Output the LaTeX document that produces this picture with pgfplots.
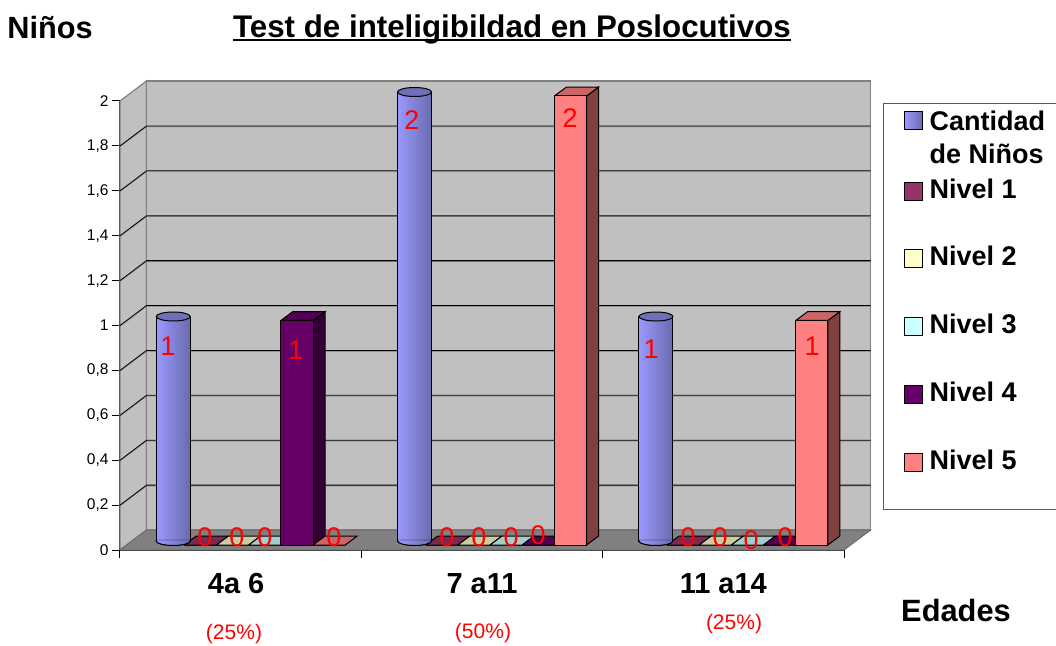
\documentclass[border=0pt]{standalone}
\usepackage{fontspec}
\setmainfont{Liberation Sans}
\usepackage{pgfplots}
\usepackage{pgfplotstable}
\pgfplotsset{compat=1.18}
\definecolor{cA}{HTML}{9999FF}
\definecolor{cAd}{HTML}{6A6AAD}
\definecolor{cAt}{HTML}{7070B8}
\definecolor{cB}{HTML}{993366}
\definecolor{cBt}{HTML}{7A2952}
\definecolor{cC}{HTML}{FFFFCC}
\definecolor{cCt}{HTML}{CCCCA3}
\definecolor{cD}{HTML}{CCFFFF}
\definecolor{cDt}{HTML}{A3CCCC}
\definecolor{cE}{HTML}{660066}
\definecolor{cEt}{HTML}{520052}
\definecolor{cEs}{HTML}{330033}
\definecolor{cF}{HTML}{FF8080}
\definecolor{cFt}{HTML}{CC6666}
\definecolor{cFs}{HTML}{804040}
\definecolor{wall}{HTML}{C0C0C0}
\definecolor{floorc}{HTML}{808080}
\pgfplotstableread{
cat Cantidad N1 N2 N3 N4 N5
0 1 0 0 0 1 0
1 2 0 0 0 0 2
2 1 0 0 0 0 1
}\datatab
\pgfplotstableread{
x y
-0.5 0.2
-0.39 0.289
2.61 0.289
nan nan
-0.5 0.4
-0.39 0.489
2.61 0.489
nan nan
-0.5 0.6
-0.39 0.689
2.61 0.689
nan nan
-0.5 0.8
-0.39 0.889
2.61 0.889
nan nan
-0.5 1.0
-0.39 1.089
2.61 1.089
nan nan
-0.5 1.2
-0.39 1.289
2.61 1.289
nan nan
-0.5 1.4
-0.39 1.489
2.61 1.489
nan nan
-0.5 1.6
-0.39 1.689
2.61 1.689
nan nan
-0.5 1.8
-0.39 1.889
2.61 1.889
}\gridtab
\pgfdeclareplotmark{cyltop}{\pgfpathellipse{\pgfpointorigin}{\pgfqpoint{17pt}{0pt}}{\pgfqpoint{0pt}{4.5pt}}\pgfusepathqfillstroke}
\pgfdeclareplotmark{cylbot}{%
  \shade[left color=cA,right color=cAd] (-17pt,1pt)--(-17pt,0pt) arc[start angle=180,end angle=360,x radius=17pt,y radius=4.5pt]--(17pt,1pt)--cycle;
  \draw[black,line width=1pt] (-17pt,1pt)--(-17pt,0pt) arc[start angle=180,end angle=360,x radius=17pt,y radius=4.5pt]--(17pt,1pt);}
\newcommand\ulbox[1]{\setbox0=\hbox{#1}\rlap{\rule[-4pt]{\wd0}{2.2pt}}\box0}
\newcommand\lbl[3]{\node[text=red,inner sep=0pt,font=\fontsize{27}{30}\selectfont] at (#1pt,{(645-#2)*1pt}) {#3};}
\newcommand\pct[3]{\node[text=red,inner sep=0pt,font=\fontsize{21}{24}\selectfont] at (#1pt,{(645-#2)*1pt}) {#3};}
\newcommand\swatch[1]{\draw[overlay,black,fill=#1,line width=1pt] (-5pt,-0.5pt) rectangle (13pt,17.5pt);}
\begin{document}
\begin{tikzpicture}
\path[use as bounding box] (0pt,0pt) rectangle (1056pt,645pt);
\begin{axis}[
  at={(120pt,95pt)},anchor=south west,
  width=724pt,height=449pt,scale only axis,
  xmin=-0.5,xmax=2.5,ymin=0,ymax=2,clip=false,
  axis x line*=bottom,axis y line*=left,
  axis line style={black,line width=1pt},
  xtick={-0.5,0.5,1.5,2.5},
  x tick label as interval,
  xticklabels={4a 6\kern9pt,7 a11,11 a14},
  ytick={0,0.2,0.4,0.6,0.8,1,1.2,1.4,1.6,1.8,2},
  tick align=outside,major tick length=8pt,
  tick style={black,line width=1pt},
  /pgf/number format/use comma,
  /pgf/number format/assume math mode=true,
  scaled y ticks=false,
  yticklabel style={font=\fontsize{15.5}{17}\selectfont},
  xticklabel style={font=\bfseries\fontsize{29}{32}\selectfont,yshift=-12pt},
  title={\ulbox{Test de inteligibildad en Poslocutivos}},
  title style={font=\bfseries\fontsize{31.3}{34}\selectfont,at={(0.5414,1.147)},anchor=center},
  ylabel={Niños},
  every axis y label/.style={font=\bfseries\fontsize{30.7}{33}\selectfont,at={(-0.0967,1.1626)},anchor=center,rotate=0},
  xlabel={Edades},
  every axis x label/.style={font=\bfseries\fontsize{30.8}{33}\selectfont,at={(1.1547,-0.1336)},anchor=center},
  legend cell align=left,
  legend style={at={(1.0539,0.9955)},anchor=north west,draw=black!65,line width=1pt,
    font=\bfseries\fontsize{27}{30}\selectfont,row sep=14.7pt,column sep=24pt,inner xsep=18pt,inner ysep=7pt,
    nodes={text height=20pt,text depth=33pt,inner ysep=0pt,inner xsep=4pt}},
]
% walls and floor
\addplot[forget plot,fill=wall,draw=floorc,line width=1.2pt] coordinates {(-0.5,0)(-0.39,0.089)(-0.39,2.089)(-0.5,2)(-0.5,0)};
\addplot[forget plot,fill=wall,draw=floorc,line width=1.2pt] coordinates {(-0.39,0.089)(2.61,0.089)(2.61,2.089)(-0.39,2.089)(-0.39,0.089)};
\addplot[forget plot,fill=floorc,draw=floorc!85!black,line width=1pt] coordinates {(-0.5,0)(-0.39,0.089)(2.61,0.089)(2.5,0)(-0.5,0)};
\addplot[forget plot,floorc,line width=0.7pt,unbounded coords=jump,yshift=-0.8pt] table[x=x,y=y] {\gridtab};
\addplot[forget plot,black,line width=0.8pt,unbounded coords=jump] table[x=x,y=y] {\gridtab};
% Cantidad
\addplot[ybar,bar width=0.1409,bar shift=-0.3333,xshift=13pt,yshift=9pt,left color=cA,right color=cAd,draw=black,line width=1pt,
  legend image code/.code={\draw[overlay,black,fill=cA,line width=1pt] (-10pt,-1.5pt) rectangle (8pt,16.5pt);}]
  coordinates {(0,1)};
\addlegendentry{\makebox[150pt][l]{\rlap{\smash{\raisebox{-33pt}{de Niños}}}Cantidad}}
\addplot[forget plot,ybar,bar width=0.1409,bar shift=-0.3333,xshift=13pt,yshift=9pt,left color=cA,right color=cAd,draw=black,line width=1pt] coordinates {(1,2)};
\addplot[forget plot,ybar,bar width=0.1409,bar shift=-0.3333,xshift=13pt,yshift=9pt,left color=cA,right color=cAd,draw=black,line width=1pt] coordinates {(2,1)};
\addplot[forget plot,only marks,xshift=-67.44pt,mark=cylbot,yshift=9pt] table[x=cat,y=N1] {\datatab};
\addplot[forget plot,only marks,xshift=-67.44pt,mark=cyltop,mark options={fill=cAt,draw=black,line width=1pt},yshift=9pt] table[x=cat,y=Cantidad] {\datatab};
% Nivel 1
\addplot[forget plot,fill=cBt,draw=black,line width=1pt,xshift=8pt,yshift=5pt] coordinates {(-0.2667,0)(-0.1333,0)(-0.0833,0.04)(-0.2167,0.04)(-0.2667,0)};
\addplot[forget plot,fill=cBt,draw=black,line width=1pt,xshift=8pt,yshift=5pt] coordinates {(0.7333,0)(0.8667,0)(0.9167,0.04)(0.7833,0.04)(0.7333,0)};
\addplot[forget plot,fill=cBt,draw=black,line width=1pt,xshift=8pt,yshift=5pt] coordinates {(1.7333,0)(1.8667,0)(1.9167,0.04)(1.7833,0.04)(1.7333,0)};
\addplot[ybar,bar width=0.1333,bar shift=-0.2,xshift=8pt,yshift=5pt,fill=cB,draw=black,line width=1pt,
  legend image code/.code={\swatch{cB}}]
  table[x=cat,y=N1] {\datatab};
\addlegendentry{Nivel 1}
% Nivel 2
\addplot[forget plot,fill=cCt,draw=black,line width=1pt,xshift=8pt,yshift=5pt] coordinates {(-0.1333,0)(0,0)(0.05,0.04)(-0.0833,0.04)(-0.1333,0)};
\addplot[forget plot,fill=cCt,draw=black,line width=1pt,xshift=8pt,yshift=5pt] coordinates {(0.8667,0)(1,0)(1.05,0.04)(0.9167,0.04)(0.8667,0)};
\addplot[forget plot,fill=cCt,draw=black,line width=1pt,xshift=8pt,yshift=5pt] coordinates {(1.8667,0)(2,0)(2.05,0.04)(1.9167,0.04)(1.8667,0)};
\addplot[ybar,bar width=0.1333,bar shift=-0.0667,xshift=8pt,yshift=5pt,fill=cC,draw=black,line width=1pt,
  legend image code/.code={\swatch{cC}}]
  table[x=cat,y=N2] {\datatab};
\addlegendentry{Nivel 2}
% Nivel 3
\addplot[forget plot,fill=cDt,draw=black,line width=1pt,xshift=8pt,yshift=5pt] coordinates {(0,0)(0.1333,0)(0.1833,0.04)(0.05,0.04)(0,0)};
\addplot[forget plot,fill=cDt,draw=black,line width=1pt,xshift=8pt,yshift=5pt] coordinates {(1,0)(1.1333,0)(1.1833,0.04)(1.05,0.04)(1,0)};
\addplot[forget plot,fill=cDt,draw=black,line width=1pt,xshift=8pt,yshift=5pt] coordinates {(2,0)(2.1333,0)(2.1833,0.04)(2.05,0.04)(2,0)};
\addplot[ybar,bar width=0.1333,bar shift=0.0667,xshift=8pt,yshift=5pt,fill=cD,draw=black,line width=1pt,
  legend image code/.code={\swatch{cD}}]
  table[x=cat,y=N3] {\datatab};
\addlegendentry{Nivel 3}
% Nivel 4
\addplot[forget plot,fill=cEs,draw=black,line width=1pt,xshift=8pt,yshift=5pt] coordinates {(0.2667,0)(0.3167,0.04)(0.3167,1.04)(0.2667,1)(0.2667,0)};
\addplot[forget plot,fill=cEt,draw=black,line width=1pt,xshift=8pt,yshift=5pt] coordinates {(0.1333,1)(0.2667,1)(0.3167,1.04)(0.1833,1.04)(0.1333,1)};
\addplot[forget plot,fill=cEt,draw=black,line width=1pt,xshift=8pt,yshift=5pt] coordinates {(1.1333,0)(1.2667,0)(1.3167,0.04)(1.1833,0.04)(1.1333,0)};
\addplot[forget plot,fill=cEt,draw=black,line width=1pt,xshift=8pt,yshift=5pt] coordinates {(2.1333,0)(2.2667,0)(2.3167,0.04)(2.1833,0.04)(2.1333,0)};
\addplot[ybar,bar width=0.1333,bar shift=0.2,xshift=8pt,yshift=5pt,fill=cE,draw=black,line width=1pt,
  legend image code/.code={\swatch{cE}}]
  table[x=cat,y=N4] {\datatab};
\addlegendentry{Nivel 4}
% Nivel 5
\addplot[forget plot,fill=cFt,draw=black,line width=1pt,xshift=8pt,yshift=5pt] coordinates {(0.2667,0)(0.4,0)(0.45,0.04)(0.3167,0.04)(0.2667,0)};
\addplot[forget plot,fill=cFs,draw=black,line width=1pt,xshift=8pt,yshift=5pt] coordinates {(1.4,0)(1.45,0.04)(1.45,2.04)(1.4,2)(1.4,0)};
\addplot[forget plot,fill=cFt,draw=black,line width=1pt,xshift=8pt,yshift=5pt] coordinates {(1.2667,2)(1.4,2)(1.45,2.04)(1.3167,2.04)(1.2667,2)};
\addplot[forget plot,fill=cFs,draw=black,line width=1pt,xshift=8pt,yshift=5pt] coordinates {(2.4,0)(2.45,0.04)(2.45,1.04)(2.4,1)(2.4,0)};
\addplot[forget plot,fill=cFt,draw=black,line width=1pt,xshift=8pt,yshift=5pt] coordinates {(2.2667,1)(2.4,1)(2.45,1.04)(2.3167,1.04)(2.2667,1)};
\addplot[ybar,bar width=0.1333,bar shift=0.3333,xshift=8pt,yshift=5pt,fill=cF,draw=black,line width=1pt,
  legend image code/.code={\swatch{cF}}]
  table[x=cat,y=N5] {\datatab};
\addlegendentry{Nivel 5}
\end{axis}
\lbl{168}{346}{1}\lbl{205}{537}{0}\lbl{237}{537}{0}\lbl{265}{537}{0}\lbl{296}{350}{1}\lbl{334}{537}{0}
\lbl{412}{120}{2}\lbl{447}{537}{0}\lbl{479}{537}{0}\lbl{511}{537}{0}\lbl{538}{535}{0}\lbl{570}{118}{2}
\lbl{651}{349}{1}\lbl{688}{537}{0}\lbl{720}{537}{0}\lbl{751}{540}{0}\lbl{785}{537}{0}\lbl{812}{346}{1}
\pct{234}{634}{(25\%)}\pct{483}{633}{(50\%)}\pct{734}{624}{(25\%)}
\end{tikzpicture}
\end{document}
